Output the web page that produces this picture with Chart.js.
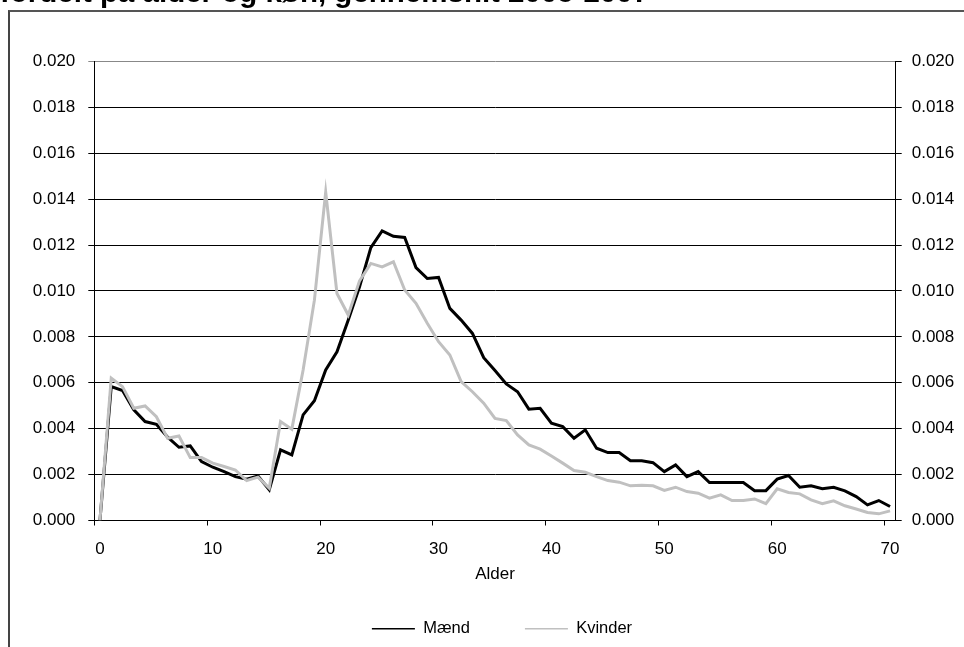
<!DOCTYPE html>
<html>
<head>
<meta charset="utf-8">
<script src="https://cdn.jsdelivr.net/npm/chart.js@4.4.1/dist/chart.umd.min.js"></script>
<style>
  html, body { margin: 0; padding: 0; background: #fff; overflow: hidden; }
  body { width: 964px; height: 647px; position: relative; }
  .frame {
    position: absolute; left: 8px; top: 10px; width: 1200px; height: 900px;
    border-left: 2px solid #444; border-top: 2px solid #555;
  }
  .wrap { position: absolute; left: 0; top: -30px; width: 964px; height: 677px; }
</style>
</head>
<body>
<div class="frame"></div>
<div class="wrap"><canvas id="chart"></canvas></div>
<script>
// alder 0-70
const ages = Array.from({ length: 71 }, (_, i) => i);

const maend = [
  0, 0.00583, 0.00566, 0.00482, 0.00431, 0.00419, 0.00363, 0.00319, 0.00325, 0.00257,
  0.00232, 0.00213, 0.00191, 0.00180, 0.00194, 0.00134, 0.00308, 0.00286, 0.00460, 0.00522,
  0.00656, 0.00735, 0.00873, 0.01018, 0.01189, 0.01262, 0.01238, 0.01233, 0.01102, 0.01054,
  0.01059, 0.00924, 0.00873, 0.00815, 0.00709, 0.00653, 0.00595, 0.00561, 0.00485, 0.00489,
  0.00424, 0.00409, 0.00358, 0.00395, 0.00315, 0.00296, 0.00296, 0.00260, 0.00260, 0.00252,
  0.00213, 0.00242, 0.00191, 0.00213, 0.00165, 0.00165, 0.00165, 0.00165, 0.00130, 0.00130,
  0.00180, 0.00196, 0.00145, 0.00151, 0.00138, 0.00145, 0.00129, 0.00104, 0.00068, 0.00087,
  0.00061
];

const kvinder = [
  0, 0.00620, 0.00583, 0.00489, 0.00499, 0.00452, 0.00358, 0.00368, 0.00274, 0.00274,
  0.00250, 0.00235, 0.00220, 0.00174, 0.00189, 0.00141, 0.00431, 0.00398, 0.00656, 0.00960,
  0.01431, 0.00989, 0.00895, 0.01044, 0.01120, 0.01105, 0.01127, 0.01004, 0.00946, 0.00859,
  0.00779, 0.00721, 0.00605, 0.00561, 0.00511, 0.00445, 0.00435, 0.00373, 0.00329, 0.00311,
  0.00281, 0.00250, 0.00218, 0.00210, 0.00191, 0.00174, 0.00167, 0.00151, 0.00154, 0.00151,
  0.00131, 0.00145, 0.00126, 0.00119, 0.00097, 0.00112, 0.00087, 0.00087, 0.00094, 0.00073,
  0.00138, 0.00122, 0.00116, 0.00090, 0.00073, 0.00086, 0.00064, 0.00050, 0.00035, 0.00029,
  0.00042
];

const xLabelStep = 10;
const yMin = 0, yMax = 0.02, yStep = 0.002;

const titleText = 'fordelt på alder og køn, gennemsnit 2005-2007';
const xTitle = 'Alder';

const FONT = 'Arial, "Liberation Sans", sans-serif';

// tick labels i begge sider
const yTicks = (pad) => ({
  stepSize: yStep,
  padding: pad,
  color: '#000',
  font: { family: FONT, size: 17 },
  callback: v => v.toFixed(3)
});

// legenden sidder lidt til højre for plotmidten
const legendShift = {
  id: 'legendShift',
  afterLayout(chart) {
    chart.legend.left += 7;
    chart.legend.right += 7;
  }
};

new Chart(document.getElementById('chart'), {
  type: 'line',
  data: {
    labels: ages,
    datasets: [
      {
        label: 'Mænd',
        data: maend,
        borderColor: '#000',
        backgroundColor: '#000',
        borderWidth: 3,
        pointRadius: 0,
        tension: 0,
        order: 1,
        yAxisID: 'y'
      },
      {
        label: 'Kvinder',
        data: kvinder,
        borderColor: '#c0c0c0',
        backgroundColor: '#c0c0c0',
        borderWidth: 3,
        pointRadius: 0,
        tension: 0,
        order: 0,
        yAxisID: 'y'
      }
    ]
  },
  plugins: [legendShift],
  options: {
    responsive: true,
    maintainAspectRatio: false,
    animation: false,
    layout: { padding: 0 },
    plugins: {
      tooltip: { enabled: false },
      title: {
        display: true,
        text: titleText,
        align: 'start',
        color: '#000',
        font: { family: FONT, size: 29.5, weight: 'bold' },
        padding: { top: 6, bottom: 50 }
      },
      legend: {
        position: 'bottom',
        fullSize: false,
        labels: {
          usePointStyle: true,
          pointStyle: 'line',
          pointStyleWidth: 43,
          padding: 55,
          color: '#000',
          font: { family: FONT, size: 16.5 },
          sort: (a, b) => a.datasetIndex - b.datasetIndex,
          generateLabels: chart =>
            Chart.defaults.plugins.legend.labels.generateLabels(chart)
              .map(l => ({ ...l, lineWidth: 1.5 }))
        }
      }
    },
    scales: {
      x: {
        type: 'category',
        offset: true,
        grid: {
          offset: true,
          drawOnChartArea: false,
          tickLength: 5,
          color: c => (c.index % xLabelStep === 0 ? '#000' : 'rgba(0,0,0,0)')
        },
        border: { color: '#000', width: 1 },
        ticks: {
          autoSkip: false,
          maxRotation: 0,
          minRotation: 0,
          padding: 14,
          color: '#000',
          font: { family: FONT, size: 17 },
          callback: (v, i) => (i % xLabelStep === 0 ? String(ages[i]) : '')
        },
        title: {
          display: true,
          text: xTitle,
          color: '#000',
          font: { family: FONT, size: 17 },
          padding: { top: 0, bottom: -19.5 }
        },
        afterFit: s => { s.height = 45; }
      },
      y: {
        position: 'left',
        min: yMin,
        max: yMax,
        grid: {
          tickLength: 6,
          color: c => (c.tick && c.tick.value > yMax - 1e-9 ? '#888' : '#000')
        },
        border: { color: '#000' },
        ticks: yTicks(13),
        afterFit: s => { s.width = 94.3; }
      },
      y2: {
        position: 'right',
        min: yMin,
        max: yMax,
        grid: { drawOnChartArea: false, tickLength: 6, color: '#000' },
        border: { color: '#000' },
        ticks: yTicks(10),
        afterFit: s => { s.width = 68.3; }
      }
    }
  }
});
</script>
</body>
</html>
